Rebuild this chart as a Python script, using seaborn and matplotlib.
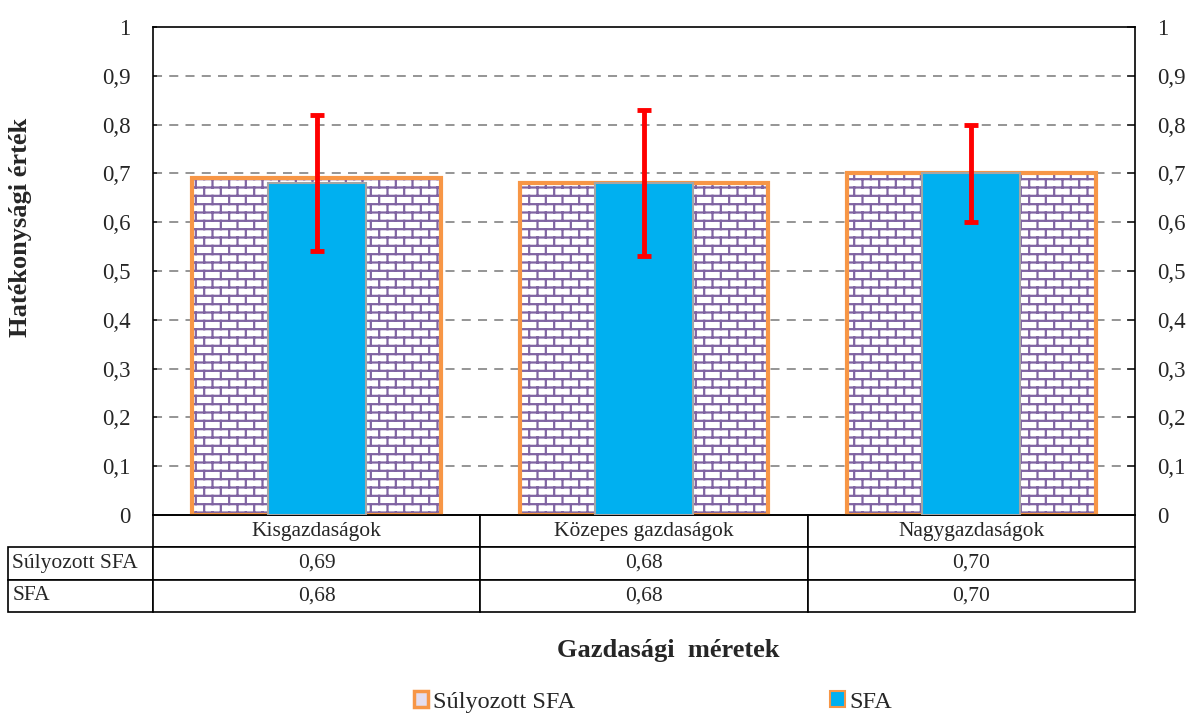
import warnings

import matplotlib
matplotlib.use("Agg")
import matplotlib.pyplot as plt
import numpy as np
import seaborn as sns
from matplotlib import hatch as mhatch
from matplotlib.patches import Patch
from matplotlib.path import Path
from matplotlib.table import Table

warnings.filterwarnings("ignore")

# --- adatok -----------------------------------------------------------
categories = ["Kisgazdaságok", "Közepes gazdaságok", "Nagygazdaságok"]
series_names = ["Súlyozott SFA", "SFA"]
weighted_sfa = [0.69, 0.68, 0.70]
sfa = [0.68, 0.68, 0.70]
err_low = [0.54, 0.53, 0.60]
err_high = [0.82, 0.83, 0.80]
y_ticks = [0.0, 0.1, 0.2, 0.3, 0.4, 0.5, 0.6, 0.7, 0.8, 0.9, 1.0]

ORANGE = "#F79646"
PURPLE = "#8064A2"
BLUE = "#00B0F0"
GREY_EDGE = "#A5A5A5"


class BrickHatch(mhatch.HatchPatternBase):
    """Téglafal minta ('b') – az Excel 'brick' kitöltéséhez."""

    rows, cols = 12, 6

    def __init__(self, hatch, density):
        segs = []
        if "b" in hatch:
            h = 1.0 / self.rows
            off = h / 2
            for i in range(self.rows):
                y = i * h + off
                segs.append(((0.0, y), (1.0, y)))
            for i in range(self.rows):
                y0 = i * h + off
                y1 = y0 + h
                for j in range(self.cols):
                    x = (j + 0.25 + 0.5 * (i % 2)) / self.cols
                    if y1 > 1.0:
                        segs.append(((x, y0), (x, 1.0)))
                        segs.append(((x, 0.0), (x, y1 - 1.0)))
                    else:
                        segs.append(((x, y0), (x, y1)))
        self.segs = segs
        self.num_vertices = 2 * len(segs)

    def set_vertices_and_codes(self, vertices, codes):
        vertices[:] = np.array(self.segs, dtype=float).reshape(-1, 2)
        codes[0::2] = Path.MOVETO
        codes[1::2] = Path.LINETO


mhatch._hatch_types.append(BrickHatch)

sns.set_style("ticks")
plt.rcParams.update(
    {
        "font.family": ["Liberation Serif", "DejaVu Serif"],
        "hatch.linewidth": 1.6,
        "axes.linewidth": 1.2,
    }
)

fig = plt.figure(figsize=(11.89, 7.13), dpi=100)
ax = fig.add_axes([153 / 1189, 1 - 515 / 713, 982 / 1189, 488 / 713])

# széles oszlop: téglamintás kitöltés
n0 = len(ax.patches)
sns.barplot(x=categories, y=weighted_sfa, width=0.76, color="white",
            errorbar=None, ax=ax)
for p in ax.patches[n0:]:
    p.set_facecolor("white")
    p.set_hatch("b")
    p.set_edgecolor(PURPLE)
    p.set_linewidth(0)

# széles oszlop: narancs keret
n0 = len(ax.patches)
sns.barplot(x=categories, y=weighted_sfa, width=0.76, color="white",
            errorbar=None, ax=ax)
for p in ax.patches[n0:]:
    p.set_facecolor("none")
    p.set_edgecolor(ORANGE)
    p.set_linewidth(3)
    p.set_zorder(2)

# keskeny SFA oszlop
n0 = len(ax.patches)
sns.barplot(x=categories, y=sfa, width=0.30, color=BLUE, errorbar=None, ax=ax)
for p in ax.patches[n0:]:
    p.set_facecolor(BLUE)
    p.set_edgecolor(GREY_EDGE)
    p.set_linewidth(1.5)
    p.set_zorder(3)

sfa_arr = np.array(sfa)
yerr = [sfa_arr - np.array(err_low), np.array(err_high) - sfa_arr]
ax.errorbar(np.arange(len(categories)), sfa_arr, yerr=yerr, fmt="none",
            ecolor="#FF0000", elinewidth=3.5, capsize=5, capthick=3.5,
            zorder=5)

ax.set_xlim(-0.5, len(categories) - 0.5)
ax.set_ylim(0, 1)
ax.set_yticks(y_ticks)
ax.set_yticklabels(["0" if v == 0 else "1" if v == 1 else f"{v:.1f}".replace(".", ",")
                    for v in y_ticks])
ax.tick_params(axis="y", which="both", left=True, right=True, labelleft=True,
               labelright=True, labelsize=16.5, width=1.2)
ax.yaxis.set_tick_params(which="major", direction="in", length=3, pad=16)
for t in ax.yaxis.get_major_ticks():
    t.tick2line.set_markersize(6)
    t.tick2line.set_marker(0)  # kifelé a jobb oldalon
ax.tick_params(axis="x", bottom=False, labelbottom=False)
ax.set_xlabel("")
ax.set_ylabel("")
for s in ax.spines.values():
    s.set_visible(True)
    s.set_color("black")
    s.set_linewidth(1.2)

ax.set_axisbelow(True)
for v in y_ticks[1:-1]:
    ax.axhline(v, color="#8C8C8C", lw=1.3, ls=(0, (5, 4)), zorder=0.5)

# adattábla a diagram alatt (szélességek tengely-arányban)
tab_h = 97 / 488
label_w, col_w, row_h = 145 / 982, 1 / len(categories), tab_h / 3
tab = Table(ax, bbox=[0, -tab_h, 1, tab_h])
for j, c in enumerate(categories):
    tab.add_cell(0, j, width=col_w, height=row_h, text=c, loc="center")
for i, (name, vals) in enumerate(zip(series_names, [weighted_sfa, sfa]), start=1):
    cell = tab.add_cell(i, -1, width=label_w, height=row_h, text=name, loc="left")
    cell.PAD = 0.03
    for j, v in enumerate(vals):
        tab.add_cell(i, j, width=col_w, height=row_h,
                     text=f"{v:.2f}".replace(".", ","), loc="center")
tab.auto_set_font_size(False)
tab.set_fontsize(15.5)
for cell in tab.get_celld().values():
    cell.set_linewidth(1.2)
    cell.set_edgecolor("black")
tab.set_clip_on(False)
ax.add_table(tab)

fig.text(21 / 1189, 1 - 227 / 713, "Hatékonysági érték", rotation=90,
         ha="center", va="center", fontsize=19, fontweight="bold")
fig.text(668 / 1189, 1 - 650 / 713, "Gazdasági  méretek", ha="center",
         va="center", fontsize=19, fontweight="bold")

handles = [
    Patch(facecolor="#E4DDEE", edgecolor=ORANGE, linewidth=2.5),
    Patch(facecolor=BLUE, edgecolor=ORANGE, linewidth=1.5),
]
fig.legend(handles, series_names, loc="center", ncol=2,
           bbox_to_anchor=(653 / 1189, 1 - 702 / 713), frameon=False,
           fontsize=17.5, handlelength=0.6, handleheight=0.6,
           handletextpad=0.2, columnspacing=10.5, borderaxespad=0)

fig.savefig("out.png", dpi=100)
